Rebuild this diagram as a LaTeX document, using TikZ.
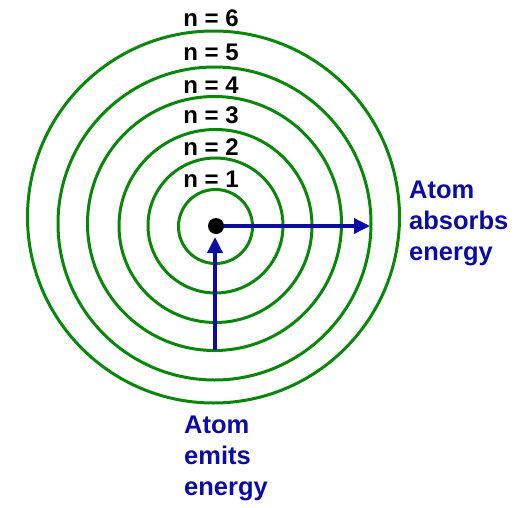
\documentclass[tikz,border=0pt]{standalone}
\usepackage{fontspec}
\setmainfont{Liberation Sans}
\usetikzlibrary{arrows.meta}

\definecolor{orbitgreen}{RGB}{10,135,10}
\definecolor{jumpblue}{RGB}{12,12,165}

\tikzset{
  orbit/.style={draw=orbitgreen, line width=3pt},
  level/.style={anchor=base, inner sep=0pt, font=\fontsize{24}{28}\selectfont\bfseries},
  jump/.style={draw=jumpblue, line width=3.5pt, -{Triangle[length=16pt,width=15pt]}},
  note/.style={anchor=north west, inner sep=0pt, align=left, text=jumpblue,
    font=\fontsize{25.5}{31}\selectfont\bfseries},
  nucleus/.style={circle, fill=black, minimum size=16pt, inner sep=0pt}
}

\begin{document}
\begin{tikzpicture}[x=1pt, y=-1pt]
        \useasboundingbox (0,0) rectangle (523,507);

        % Energy levels
        \foreach \k/\cx/\cy/\r/\b in {1/215.5/226.5/37/187, 2/215.5/225.5/67.5/155,
                                     3/215.5/226/96.5/123, 4/214.5/223.5/127/93,
                                     5/214.5/223.5/156.5/60, 6/213.5/217/186/26} {
            \draw[orbit] (\cx,\cy) circle[radius=\r];
            \node[level] (n\k) at (211,\b) {n = \k};
        }

        % Nucleus and jumps
        \coordinate (nuc) at (216,226);
        \coordinate (absorb) at (370,226);
        \coordinate (emit) at (215,350);
        \coordinate (emitend) at (215,237);
        \draw[jump] (nuc) -- (absorb);
        \draw[jump] (emit) -- (emitend);
        \node[nucleus] (core) at (nuc) {};

        % Labels
        \node[note] (absorbs) at (409,181) {Atom\\absorbs\\energy};
        \node[note] (emits) at (184,416) {Atom\\emits\\energy};

\end{tikzpicture}
\end{document}
